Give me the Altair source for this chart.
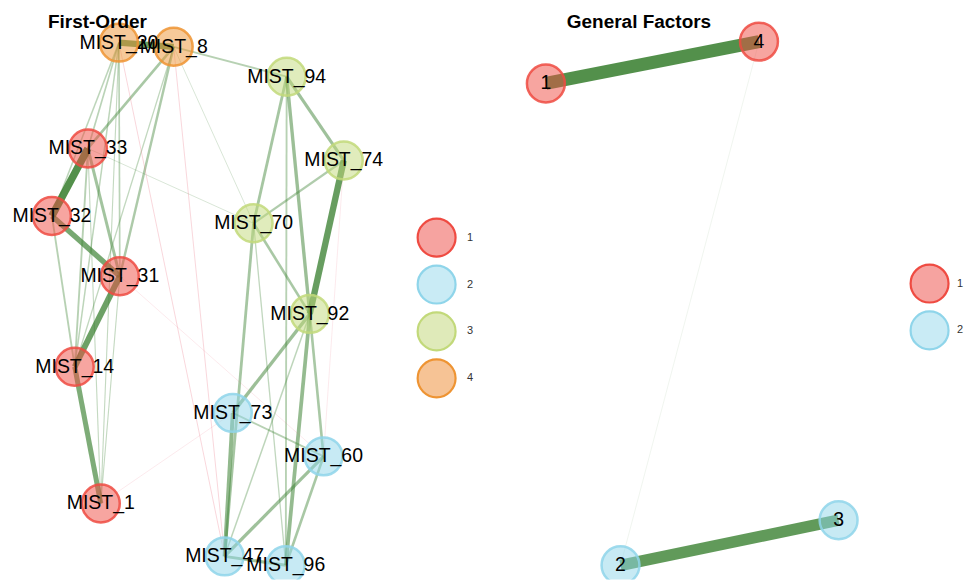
import altair as alt
import pandas as pd

# ---------------- First-order network ----------------
node_names = ["MIST_20", "MIST_8", "MIST_94", "MIST_74", "MIST_33", "MIST_32", "MIST_70",
              "MIST_31", "MIST_92", "MIST_14", "MIST_73", "MIST_60", "MIST_1", "MIST_47", "MIST_96"]
node_x = [0.229, 0.416, 0.802, 0.997, 0.123, 0.000, 0.689, 0.232, 0.881, 0.078, 0.618, 0.928, 0.167, 0.590, 0.799]
node_y = [0.998, 0.990, 0.933, 0.773, 0.796, 0.667, 0.653, 0.552, 0.480, 0.379, 0.291, 0.208, 0.118, 0.017, 0.000]
node_comm = ["4", "4", "3", "3", "1", "1", "3", "1", "3", "1", "2", "2", "1", "2", "2"]

edge_from = ["MIST_33", "MIST_32", "MIST_31", "MIST_14", "MIST_20", "MIST_74", "MIST_94", "MIST_94",
             "MIST_94", "MIST_70", "MIST_70", "MIST_92", "MIST_92", "MIST_92", "MIST_73", "MIST_60",
             "MIST_60", "MIST_47", "MIST_73", "MIST_70", "MIST_8", "MIST_8", "MIST_8", "MIST_8",
             "MIST_20", "MIST_20", "MIST_20", "MIST_20", "MIST_20", "MIST_33", "MIST_33", "MIST_33",
             "MIST_32", "MIST_31", "MIST_92", "MIST_70", "MIST_94", "MIST_33",
             "MIST_20", "MIST_8", "MIST_1", "MIST_31", "MIST_74", "MIST_8"]
edge_to = ["MIST_32", "MIST_31", "MIST_14", "MIST_1", "MIST_8", "MIST_92", "MIST_92", "MIST_74",
           "MIST_70", "MIST_74", "MIST_92", "MIST_73", "MIST_60", "MIST_96", "MIST_47", "MIST_47",
           "MIST_96", "MIST_96", "MIST_60", "MIST_47", "MIST_94", "MIST_33", "MIST_31", "MIST_14",
           "MIST_33", "MIST_32", "MIST_14", "MIST_31", "MIST_1", "MIST_31", "MIST_14", "MIST_1",
           "MIST_14", "MIST_1", "MIST_47", "MIST_96", "MIST_96", "MIST_70",
           "MIST_47", "MIST_47", "MIST_73", "MIST_60", "MIST_60", "MIST_70"]
edge_w = [0.40, 0.29, 0.32, 0.27, 0.33, 0.34, 0.18, 0.17,
          0.15, 0.12, 0.14, 0.18, 0.14, 0.20, 0.21, 0.17,
          0.14, 0.16, 0.10, 0.15, 0.10, 0.14, 0.13, 0.07,
          0.09, 0.08, 0.08, 0.09, 0.06, 0.16, 0.10, 0.06,
          0.10, 0.06, 0.08, 0.07, 0.10, 0.04,
          -0.05, -0.05, -0.03, -0.03, -0.03, 0.04]

# ---------------- General factors network ----------------
g_names = ["1", "4", "2", "3"]
g_x = [0.000, 0.728, 0.255, 1.000]
g_y = [0.920, 1.000, 0.000, 0.086]
g_comm = ["1", "1", "2", "2"]

g_from = ["1", "2", "4"]
g_to = ["4", "3", "2"]
g_w = [0.70, 0.62, 0.02]

comm_domain = ["1", "2", "3", "4"]
comm_colors = ["#EF4B42", "#8FD5EA", "#C2D97A", "#EE9433"]      # node base colours
comm_light = ["#F6A3A0", "#C9EBF5", "#DFEAB9", "#F6C395"]       # legend symbol fills
pos_col, neg_col = "#3B8132", "#E8687A"
FONT = "Liberation Sans"


def build(names, xs, ys, comms, efrom, eto, ew):
    nodes = pd.DataFrame({"name": names, "x": xs, "y": ys, "comm": comms})
    edges = pd.DataFrame({"a": efrom, "b": eto, "w": ew})
    edges = edges.merge(nodes[["name", "x", "y"]], left_on="a", right_on="name")
    edges = edges.merge(nodes[["name", "x", "y"]], left_on="b", right_on="name", suffixes=("", "2"))
    edges["absw"] = edges["w"].abs()
    edges["sign"] = ["pos" if v > 0 else "neg" for v in edges["w"]]
    return nodes, edges


def panel(nodes, edges, title, title_dx, wmax, widthmax, comms, legend_x, legend_y, label_offset):
    xs = alt.Scale(domain=[-0.15, 1.2])
    ys = alt.Scale(domain=[-0.027, 1.063])
    base_x = alt.X("x:Q", scale=xs, axis=None)
    base_y = alt.Y("y:Q", scale=ys, axis=None)
    e = alt.Chart(edges).mark_rule(strokeCap="butt").encode(
        x=base_x, y=base_y, x2="x2:Q", y2="y2:Q",
        color=alt.Color("sign:N", scale=alt.Scale(domain=["pos", "neg"], range=[pos_col, neg_col]), legend=None),
        strokeWidth=alt.StrokeWidth("absw:Q", scale=alt.Scale(domain=[0, wmax], range=[0, widthmax]), legend=None),
        opacity=alt.Opacity("absw:Q", scale=alt.Scale(domain=[0, wmax], range=[0.2, 0.88]), legend=None),
    )
    cols = [comm_colors[comm_domain.index(c)] for c in comms]
    light = [comm_light[comm_domain.index(c)] for c in comms]
    leg = alt.Legend(orient="none", legendX=legend_x, legendY=legend_y, title=None,
                     symbolSize=1444, symbolType="circle", symbolStrokeWidth=2.2,
                     labelFontSize=11, labelFont=FONT, labelColor="#333333",
                     rowPadding=0, labelOffset=label_offset)
    # translucent node fill (edges show through)
    nfill = alt.Chart(nodes).mark_circle(size=1444, fillOpacity=0.5, strokeWidth=0, opacity=1, clip=True).encode(
        x=base_x, y=base_y,
        color=alt.Color("comm:N", scale=alt.Scale(domain=comms, range=cols), legend=None),
    )
    # node outline, carries the legend
    nline = alt.Chart(nodes).mark_circle(size=1444, fillOpacity=0, strokeOpacity=0.85, strokeWidth=2.5,
                                         opacity=1, clip=True).encode(
        x=base_x, y=base_y,
        fill=alt.Fill("comm:N", scale=alt.Scale(domain=comms, range=light), legend=leg),
        stroke=alt.Stroke("comm:N", scale=alt.Scale(domain=comms, range=cols), legend=leg),
    )
    t = alt.Chart(nodes).mark_text(fontSize=19.5, font=FONT, color="black", baseline="middle", align="center").encode(
        x=base_x, y=base_y, text="name:N")
    return alt.layer(e, nfill, nline, t).resolve_scale(color="independent").properties(
        width=396, height=572,
        title=alt.TitleParams(title, anchor="start", dx=title_dx, fontSize=19, font=FONT,
                              fontWeight="bold", color="black", offset=-23),
    )


n1, e1 = build(node_names, node_x, node_y, node_comm, edge_from, edge_to, edge_w)
n2, e2 = build(g_names, g_x, g_y, g_comm, g_from, g_to, g_w)

left = panel(n1, e1, "First-Order", 40, 0.40, 7.5, ["1", "2", "3", "4"], 409, 209, 10)
right = panel(n2, e2, "General Factors", 65, 0.70, 13, ["1", "2"], 408, 255, 7)

chart = alt.hconcat(left, right, spacing=28).resolve_scale(
    fill="independent", stroke="independent", color="independent",
    strokeWidth="independent", opacity="independent", x="independent", y="independent"
).resolve_legend(fill="independent", stroke="independent").configure_view(stroke=None).properties(padding=0)

chart.save("out.html", embed_options={"renderer": "svg", "actions": False})
